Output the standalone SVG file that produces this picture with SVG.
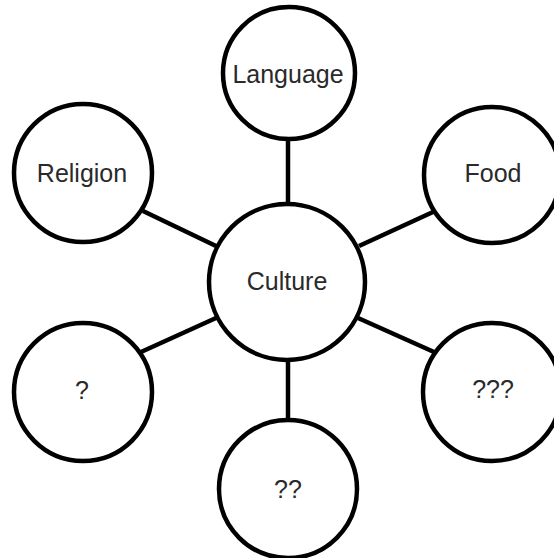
<svg xmlns="http://www.w3.org/2000/svg" width="554" height="558" viewBox="0 0 554 558">
<style>
.n{fill:#fff;stroke:#000;stroke-width:4.5}
.t{font-family:"Liberation Sans",Arial,sans-serif;font-size:25px;fill:#2a2a2a;text-anchor:middle;dominant-baseline:central}
.c{stroke:#000;stroke-width:4.5;fill:none}
</style>
<rect width="554" height="558" fill="#fff"/>
<g id="connectors">
<line class="c" x1="288" y1="140" x2="288" y2="204"/>
<line class="c" x1="143" y1="211" x2="216" y2="246"/>
<line class="c" x1="433" y1="212" x2="359" y2="246"/>
<line class="c" x1="141" y1="352" x2="216" y2="318"/>
<line class="c" x1="434" y1="352" x2="358" y2="318"/>
<line class="c" x1="288" y1="360" x2="288" y2="419"/>
</g>
<g id="culture"><circle class="n" cx="287" cy="282" r="78"/><text class="t" x="287" y="281">Culture</text></g>
<g id="language"><circle class="n" cx="289" cy="73" r="66"/><text class="t" x="288" y="74">Language</text></g>
<g id="religion"><circle class="n" cx="83" cy="173" r="69"/><text class="t" x="82" y="173">Religion</text></g>
<g id="food"><circle class="n" cx="492" cy="175" r="68"/><text class="t" x="493" y="173">Food</text></g>
<g id="q1"><circle class="n" cx="83" cy="392" r="69"/><text class="t" x="82" y="390">?</text></g>
<g id="q2"><circle class="n" cx="288" cy="489" r="69"/><text class="t" x="288" y="489">??</text></g>
<g id="q3"><circle class="n" cx="492" cy="392" r="69"/><text class="t" x="493" y="389">???</text></g>
</svg>
